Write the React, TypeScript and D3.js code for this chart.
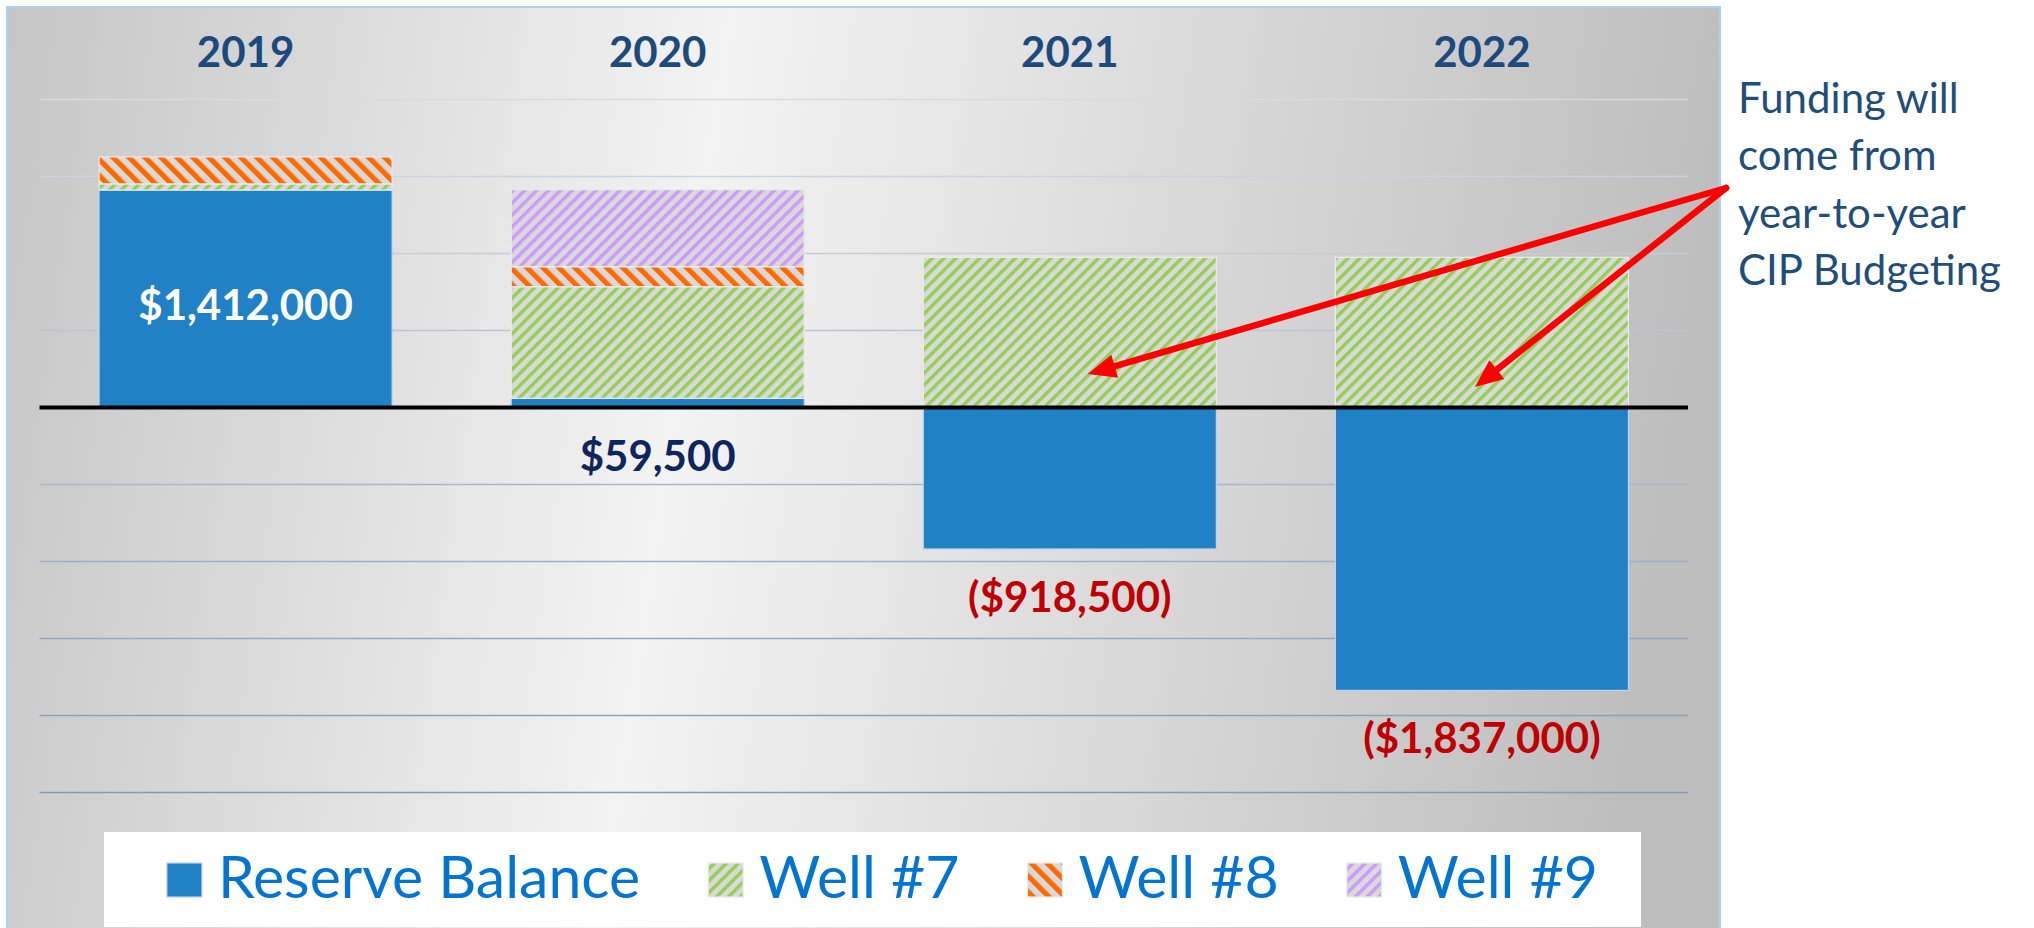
import { useRef, useEffect } from "react";
import * as d3 from "d3";

const WIDTH = 2034;
const HEIGHT = 928;
const FONT = "Lato, 'Open Sans', sans-serif";

// data
const years = ["2019", "2020", "2021", "2022"];
const reserveBalance = [1412000, 59500, -918500, -1837000];
const well7 = [40000, 725000, 975000, 975000];
const well8 = [175000, 130000, 0, 0];
const well9 = [0, 500000, 0, 0];
const seriesKeys = ["Reserve Balance", "Well #7", "Well #8", "Well #9"];
const gridValues = [-2500000, -2000000, -1500000, -1000000, -500000, 500000, 1000000, 1500000, 2000000];
const noteLines = ["Funding will", "come from", "year-to-year", "CIP Budgeting"];
const noteTargets = [
  { year: "2021", value: 217000, shift: 18 },
  { year: "2022", value: 133000, shift: -7 },
];

const panel = { left: 7, top: 7, right: 1720, bottom: 960 };
const plot = { left: 39.5, right: 1688, top: 99.5, bottom: 792.5 };
const legendBox = { left: 104, right: 1641, top: 832, bottom: 927 };

const fills: Record<string, string> = {
  "Reserve Balance": "#2181c6",
  "Well #7": "url(#hatch7)",
  "Well #8": "url(#hatch8)",
  "Well #9": "url(#hatch9)",
};
const edges: Record<string, string> = {
  "Reserve Balance": "#b9d4ec",
  "Well #7": "#ececec",
  "Well #8": "#ececec",
  "Well #9": "#ececec",
};

const money = d3.format(",");
const labelText = (v: number) => (v < 0 ? `($${money(-v)})` : `$${money(v)}`);

export default function App() {
  const svgRef = useRef<SVGSVGElement>(null);

  useEffect(() => {
    const svg = d3.select(svgRef.current);
    svg.selectAll("*").remove();

    // defs: background gradient and hatch patterns
    const defs = svg.append("defs");
    const bg = defs.append("linearGradient").attr("id", "panelBg")
      .attr("x1", "0").attr("y1", "0").attr("x2", "1").attr("y2", "0.08");
    [["0%", "#c5c5c5"], ["42%", "#f3f3f3"], ["100%", "#bebebe"]]
      .forEach(([o, c]) => bg.append("stop").attr("offset", o).attr("stop-color", c));

    const hatch = (id: string, color: string, size: number, stripe: number, angle: number) => {
      const p = defs.append("pattern").attr("id", id)
        .attr("patternUnits", "userSpaceOnUse")
        .attr("width", size).attr("height", size)
        .attr("patternTransform", `rotate(${angle})`);
      p.append("rect").attr("width", size).attr("height", size).attr("fill", "#d9d9d9");
      p.append("rect").attr("width", stripe).attr("height", size).attr("fill", color);
    };
    hatch("hatch7", "#92d050", 8.4, 3.4, 45);
    hatch("hatch8", "#ff6a00", 11.3, 5.2, -45);
    hatch("hatch9", "#cc99ff", 8.4, 3.4, 45);

    // panel
    svg.append("rect")
      .attr("x", panel.left).attr("y", panel.top)
      .attr("width", panel.right - panel.left).attr("height", panel.bottom - panel.top)
      .attr("fill", "url(#panelBg)")
      .attr("stroke", "#a9d1f5").attr("stroke-width", 2);

    // scales
    const x = d3.scaleBand().domain(years)
      .range([plot.left, plot.right])
      .paddingInner(0.289).paddingOuter(0.1445);
    const y = d3.scaleLinear().domain([-2500000, 2000000]).range([plot.bottom, plot.top]);
    const gridColor = d3.scaleLinear<string>().domain([plot.top, plot.bottom]).range(["#d5dbe2", "#7f9cb6"]);

    // gridlines
    svg.append("g").selectAll("line")
      .data(gridValues)
      .join("line")
      .attr("x1", plot.left).attr("x2", plot.right)
      .attr("y1", d => y(d)).attr("y2", d => y(d))
      .attr("stroke", d => gridColor(y(d)))
      .attr("stroke-width", 1.6);

    // stacked bars
    const rows = years.map((yr, i) => ({
      year: yr,
      "Reserve Balance": reserveBalance[i],
      "Well #7": well7[i],
      "Well #8": well8[i],
      "Well #9": well9[i],
    }));
    const stacked = d3.stack<any>().keys(seriesKeys).offset(d3.stackOffsetDiverging)(rows);

    svg.append("g").selectAll("g")
      .data(stacked)
      .join("g")
      .attr("fill", s => fills[s.key])
      .attr("stroke", s => edges[s.key])
      .attr("stroke-width", 1.2)
      .selectAll("rect")
      .data(s => s.filter(d => d[1] !== d[0]))
      .join("rect")
      .attr("x", d => x(d.data.year)!)
      .attr("width", x.bandwidth())
      .attr("y", d => y(Math.max(d[0], d[1])))
      .attr("height", d => Math.abs(y(d[0]) - y(d[1])));

    // zero line
    svg.append("line")
      .attr("x1", plot.left).attr("x2", plot.right)
      .attr("y1", y(0)).attr("y2", y(0))
      .attr("stroke", "#000").attr("stroke-width", 4);

    // year labels along the top
    svg.append("g").selectAll("text")
      .data(years)
      .join("text")
      .attr("x", d => x(d)! + x.bandwidth() / 2)
      .attr("y", 66.5)
      .attr("text-anchor", "middle")
      .style("font-family", FONT)
      .style("font-weight", 700)
      .style("font-size", "42px")
      .attr("fill", "#1b4a7c")
      .text(d => d);

    // reserve value labels
    const inside = (v: number) => v > 0 && Math.abs(y(v) - y(0)) > 120;
    svg.append("g").selectAll("text")
      .data(years.map((yr, i) => ({ year: yr, value: reserveBalance[i] })))
      .join("text")
      .attr("x", d => x(d.year)! + x.bandwidth() / 2)
      .attr("y", d => (inside(d.value) ? y(d.value / 2) + 21 : Math.max(y(0), y(d.value)) + 63))
      .attr("text-anchor", "middle")
      .style("font-family", FONT)
      .style("font-weight", 700)
      .style("font-size", "42px")
      .attr("fill", d => (inside(d.value) ? "#ffffff" : d.value < 0 ? "#c00000" : "#0e2560"))
      .text(d => labelText(d.value));

    // callout text
    svg.append("g").selectAll("text")
      .data(noteLines)
      .join("text")
      .attr("x", 1738)
      .attr("y", (_, i) => 113 + i * 57.3)
      .style("font-family", FONT)
      .style("font-size", "42px")
      .attr("fill", "#1f4e79")
      .text(d => d);

    // callout arrows
    const start: [number, number] = [1726, 188];
    const arrows = svg.append("g");
    noteTargets.forEach(t => {
      const tip: [number, number] = [x(t.year)! + x.bandwidth() / 2 + t.shift, y(t.value)];
      const dx = tip[0] - start[0], dy = tip[1] - start[1];
      const len = Math.hypot(dx, dy);
      const ux = dx / len, uy = dy / len;
      const L = 28, half = 12;
      const base = [tip[0] - ux * L, tip[1] - uy * L];
      arrows.append("line")
        .attr("x1", start[0]).attr("y1", start[1])
        .attr("x2", base[0] + ux * 4).attr("y2", base[1] + uy * 4)
        .attr("stroke", "#ff0000").attr("stroke-width", 6.5)
        .attr("stroke-linecap", "round");
      arrows.append("polygon")
        .attr("points", [
          tip,
          [base[0] - uy * half, base[1] + ux * half],
          [base[0] + uy * half, base[1] - ux * half],
        ].map(p => p.join(",")).join(" "))
        .attr("fill", "#ff0000");
    });

    // legend
    svg.append("rect")
      .attr("x", legendBox.left).attr("y", legendBox.top)
      .attr("width", legendBox.right - legendBox.left)
      .attr("height", legendBox.bottom - legendBox.top)
      .attr("fill", "#ffffff");

    const legend = svg.append("g");
    const items = legend.selectAll("g")
      .data(seriesKeys)
      .join("g");
    items.append("rect")
      .attr("width", 35).attr("height", 34)
      .attr("y", 863)
      .attr("fill", d => fills[d])
      .attr("stroke", d => edges[d])
      .attr("stroke-width", 1.2);
    items.append("text")
      .attr("x", 51)
      .attr("y", 898)
      .style("font-family", FONT)
      .style("font-size", "59px")
      .attr("fill", "#0474d2")
      .text(d => d);

    const widths: number[] = [];
    items.selectAll<SVGTextElement, string>("text").each(function () {
      widths.push(51 + this.getComputedTextLength());
    });
    const gap = 68;
    const total = d3.sum(widths) + gap * (widths.length - 1);
    let cursor = (legendBox.left + legendBox.right) / 2 + 10 - total / 2;
    items.attr("transform", (_, i) => {
      const tx = cursor;
      cursor += widths[i] + gap;
      return `translate(${tx},0)`;
    });
  }, []);

  return (
    <svg
      ref={svgRef}
      width={WIDTH}
      height={HEIGHT}
      style={{ position: "absolute", left: 0, top: 0, background: "#ffffff" }}
    />
  );
}
